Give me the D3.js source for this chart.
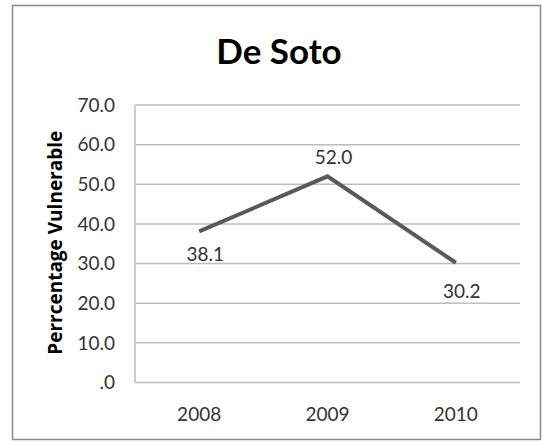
<!DOCTYPE html>
<html>
<head>
<meta charset="utf-8">
<script src="https://cdn.jsdelivr.net/npm/d3@7"></script>
<style>
  body { margin: 0; background: #fff; }
  svg { display: block; }
  text { font-family: Lato, "Open Sans", sans-serif; }
</style>
</head>
<body>
<svg width="542" height="442"></svg>
<script>
// De Soto - percentage vulnerable by year
var years = ["2008", "2009", "2010"];
var values = [38.1, 52.0, 30.2];
var yTicks = [0, 10, 20, 30, 40, 50, 60, 70];
var chartTitle = "De Soto";
var yLabel = "Perrcentage Vulnerable";

var svg = d3.select("svg");
var margin = {left: 135, right: 22, top: 105, bottom: 60};
var width = 542, height = 442;

// outer frame
svg.append("rect")
  .attr("x", 12.5).attr("y", 5.5)
  .attr("width", 528).attr("height", 434)
  .attr("fill", "#fff")
  .attr("stroke", "#8a8a8a")
  .attr("stroke-width", 1.5);

var x = d3.scaleBand()
  .domain(years)
  .range([margin.left, width - margin.right]);

var y = d3.scaleLinear()
  .domain([0, 70])
  .range([height - margin.bottom + 0.5, margin.top]);

function fmt(v) {
  var s = v.toFixed(1);
  return s === "0.0" ? ".0" : s;
}

// gridlines
svg.append("g")
  .selectAll("line")
  .data(yTicks)
  .enter().append("line")
    .attr("x1", margin.left)
    .attr("x2", width - margin.right)
    .attr("y1", function(d) { return y(d); })
    .attr("y2", function(d) { return y(d); })
    .attr("stroke", "#bcbcbc")
    .attr("stroke-width", 1.5);

// y axis line
svg.append("line")
  .attr("x1", margin.left).attr("x2", margin.left)
  .attr("y1", y(70)).attr("y2", y(0))
  .attr("stroke", "#bcbcbc")
  .attr("stroke-width", 1.5);

// y tick labels
svg.append("g")
  .selectAll("text")
  .data(yTicks)
  .enter().append("text")
    .attr("x", margin.left - 20)
    .attr("y", function(d) { return y(d); })
    .attr("dy", "0.35em")
    .attr("text-anchor", "end")
    .attr("font-size", 19)
    .attr("fill", "#333")
    .text(fmt);

// x tick labels
svg.append("g")
  .selectAll("text")
  .data(years)
  .enter().append("text")
    .attr("x", function(d) { return x(d) + x.bandwidth() / 2; })
    .attr("y", y(0) + 32)
    .attr("dy", "0.35em")
    .attr("text-anchor", "middle")
    .attr("font-size", 19)
    .attr("fill", "#333")
    .text(function(d) { return d; });

// the line
var line = d3.line()
  .x(function(d, i) { return x(years[i]) + x.bandwidth() / 2; })
  .y(function(d) { return y(d); });

svg.append("path")
  .datum(values)
  .attr("d", line)
  .attr("fill", "none")
  .attr("stroke", "#595959")
  .attr("stroke-width", 4);

// data labels: max above, others below
var maxV = d3.max(values);
svg.append("g")
  .selectAll("text")
  .data(values)
  .enter().append("text")
    .attr("x", function(d, i) { return x(years[i]) + x.bandwidth() / 2 + 6; })
    .attr("y", function(d) { return y(d) + (d === maxV ? -19 : (d < 35 ? 29 : 23)); })
    .attr("dy", "0.35em")
    .attr("text-anchor", "middle")
    .attr("font-size", 19)
    .attr("fill", "#333")
    .text(fmt);

// title
svg.append("text")
  .attr("x", 279)
  .attr("y", 64)
  .attr("text-anchor", "middle")
  .attr("font-size", 35)
  .attr("font-weight", "bold")
  .attr("fill", "#000")
  .text(chartTitle);

// y axis title
svg.append("text")
  .attr("transform", "translate(55," + (y(35) - 1) + ") rotate(-90)")
  .attr("dy", "0.35em")
  .attr("text-anchor", "middle")
  .attr("font-size", 19)
  .attr("font-weight", "bold")
  .attr("fill", "#000")
  .style("font-family", "'Open Sans', sans-serif")
  .text(yLabel);
</script>
</body>
</html>
